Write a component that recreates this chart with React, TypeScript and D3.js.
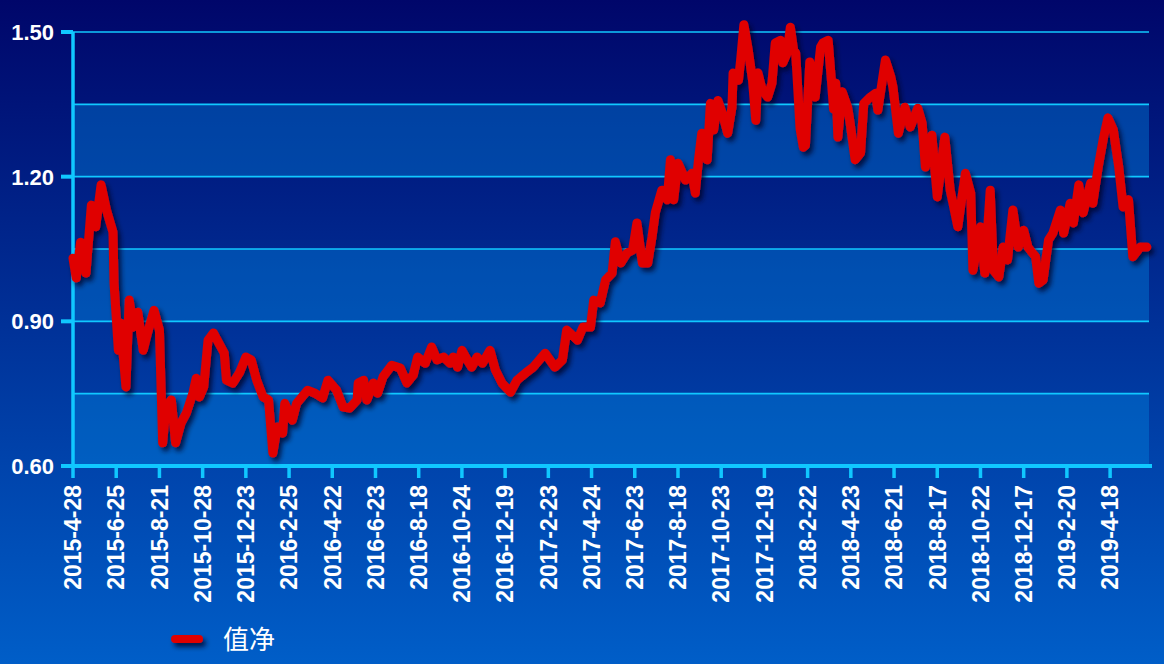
import * as d3 from 'd3';
import * as React from 'react';

// x-axis labels, one per 40 trading days
const dateLabels: string[] = [
    '2015-4-28', '2015-6-25', '2015-8-21', '2015-10-28', '2015-12-23',
    '2016-2-25', '2016-4-22', '2016-6-23', '2016-8-18', '2016-10-24',
    '2016-12-19', '2017-2-23', '2017-4-24', '2017-6-23', '2017-8-18',
    '2017-10-23', '2017-12-19', '2018-2-22', '2018-4-23', '2018-6-21',
    '2018-8-17', '2018-10-22', '2018-12-17', '2019-2-20', '2019-4-18',
];
const labelStep = 40;
const lastDay = 996;

const yLabels: number[] = [0.6, 0.9, 1.2, 1.5];
const gridValues: number[] = [0.6, 0.75, 0.9, 1.05, 1.2, 1.35, 1.5];

const seriesName = '值净';

// [trading-day index, net value]
const netValue: [number, number][] = [
    [0, 1.031], [3, 0.99], [7, 1.064], [12, 1.0], [17, 1.141], [21, 1.096],
    [26, 1.183], [31, 1.131], [37, 1.085], [38, 0.979], [42, 0.84], [44, 0.896],
    [49, 0.764], [52, 0.944], [56, 0.888], [60, 0.919], [65, 0.84], [69, 0.876],
    [75, 0.923], [80, 0.882], [83, 0.648], [86, 0.722], [91, 0.737], [95, 0.648],
    [100, 0.689], [105, 0.71], [111, 0.751], [114, 0.782], [117, 0.743], [121, 0.764],
    [125, 0.861], [130, 0.876], [135, 0.855], [140, 0.834], [142, 0.778], [148, 0.772],
    [154, 0.793], [160, 0.826], [165, 0.82], [170, 0.778], [176, 0.743], [181, 0.737],
    [185, 0.627], [189, 0.681], [194, 0.668], [196, 0.73], [203, 0.695], [207, 0.73],
    [217, 0.757], [224, 0.751], [231, 0.741], [236, 0.778], [244, 0.757], [250, 0.722],
    [256, 0.72], [263, 0.737], [264, 0.772], [269, 0.778], [272, 0.737], [278, 0.772],
    [282, 0.751], [287, 0.785], [295, 0.809], [303, 0.803], [309, 0.772], [315, 0.789],
    [319, 0.826], [326, 0.813], [332, 0.847], [337, 0.82], [343, 0.826], [349, 0.813],
    [352, 0.826], [356, 0.805], [360, 0.84], [365, 0.82], [369, 0.805], [374, 0.826],
    [379, 0.813], [386, 0.84], [391, 0.799], [397, 0.772], [405, 0.753], [411, 0.778],
    [419, 0.793], [426, 0.805], [437, 0.834], [446, 0.805], [453, 0.82], [457, 0.882],
    [467, 0.861], [472, 0.888], [479, 0.888], [482, 0.944], [488, 0.938], [493, 0.986],
    [499, 1.0], [502, 1.065], [507, 1.021], [513, 1.042], [518, 1.048], [522, 1.104],
    [527, 1.021], [532, 1.021], [536, 1.075], [539, 1.125], [545, 1.172], [550, 1.152],
    [553, 1.235], [556, 1.152], [560, 1.228], [567, 1.193], [573, 1.207], [576, 1.166],
    [579, 1.235], [582, 1.29], [587, 1.235], [590, 1.352], [593, 1.297], [597, 1.358],
    [602, 1.324], [606, 1.29], [610, 1.344], [611, 1.415], [616, 1.4], [618, 1.442],
    [621, 1.515], [625, 1.463], [629, 1.4], [632, 1.317], [634, 1.415], [638, 1.38],
    [643, 1.365], [647, 1.394], [650, 1.477], [655, 1.483], [657, 1.436], [661, 1.456],
    [664, 1.51], [667, 1.463], [669, 1.456], [673, 1.3], [676, 1.261], [678, 1.265],
    [682, 1.438], [687, 1.365], [692, 1.469], [694, 1.477], [699, 1.483], [702, 1.4],
    [704, 1.34], [706, 1.394], [708, 1.282], [712, 1.376], [717, 1.344], [719, 1.317],
    [724, 1.235], [729, 1.249], [732, 1.352], [738, 1.365], [743, 1.373], [745, 1.338],
    [752, 1.442], [757, 1.407], [759, 1.386], [764, 1.29], [770, 1.344], [775, 1.303],
    [782, 1.342], [786, 1.311], [789, 1.22], [795, 1.286], [800, 1.158], [807, 1.282],
    [812, 1.172], [819, 1.096], [826, 1.207], [831, 1.166], [833, 1.006], [840, 1.096],
    [844, 1.0], [849, 1.172], [852, 1.006], [857, 0.992], [861, 1.054], [865, 1.027],
    [870, 1.131], [875, 1.054], [880, 1.089], [884, 1.054], [888, 1.042], [891, 1.034],
    [894, 0.979], [898, 0.986], [903, 1.069], [907, 1.083], [914, 1.131], [917, 1.083],
    [923, 1.145], [926, 1.104], [931, 1.183], [935, 1.125], [942, 1.187], [944, 1.145],
    [949, 1.22], [954, 1.282], [958, 1.322], [963, 1.297], [968, 1.22], [972, 1.137],
    [977, 1.152], [981, 1.034], [988, 1.054], [994, 1.054],
];

const W = 1164;
const H = 664;
const plot = { left: 73, right: 1149, top: 32, bottom: 466 };
const cyan = '#10c8ff';
const red = '#e00000';

export default function App() {
    const x = d3.scaleLinear().domain([0, lastDay]).range([plot.left, plot.right]);
    const y = d3.scaleLinear().domain([0.6, 1.5]).range([plot.bottom, plot.top]);

    const line = d3.line<[number, number]>()
        .x(d => x(d[0]))
        .y(d => y(d[1]));

    // alternating bands between grid lines, lighter ones from the bottom up
    const bands = d3.pairs(gridValues).map(([lo, hi], i) => ({ lo, hi, light: i % 2 === 0 }));

    return (
        <div style={{ position: 'fixed', left: 0, top: 0 }}>
            <svg width={W} height={H} style={{ display: 'block' }}>
                <defs>
                    <linearGradient id="bg" x1="0" y1="0" x2="0" y2="1">
                        <stop offset="0%" stopColor="#00066a" />
                        <stop offset="100%" stopColor="#005ec8" />
                    </linearGradient>
                    <filter id="shadow" filterUnits="userSpaceOnUse" x="0" y="0" width={W} height={H}>
                        <feDropShadow dx="3" dy="4" stdDeviation="2.5" floodColor="#000020" floodOpacity="0.75" />
                    </filter>
                </defs>
                <rect x={0} y={0} width={W} height={H} fill="url(#bg)" />

                {bands.map(b => b.light && (
                    <rect
                        key={b.lo}
                        x={plot.left}
                        y={y(b.hi)}
                        width={plot.right - plot.left}
                        height={y(b.lo) - y(b.hi)}
                        fill="rgb(0,140,230)"
                        fillOpacity={0.38}
                    />
                ))}

                {gridValues.map(v => (
                    <line key={v} x1={plot.left} x2={plot.right} y1={y(v)} y2={y(v)}
                        stroke={cyan} strokeWidth={1.6} />
                ))}

                {/* y axis */}
                <line x1={plot.left} x2={plot.left} y1={plot.top} y2={plot.bottom} stroke={cyan} strokeWidth={3.5} />
                {yLabels.map(v => (
                    <g key={v}>
                        <line x1={plot.left - 12} x2={plot.left} y1={y(v)} y2={y(v)} stroke={cyan} strokeWidth={4} />
                        <text x={54} y={y(v)} dy="0.36em" textAnchor="end" fill="#fff"
                            fontFamily="Liberation Sans, Arial, sans-serif" fontWeight="bold" fontSize={22}>
                            {d3.format('.2f')(v)}
                        </text>
                    </g>
                ))}

                {/* x axis */}
                <line x1={plot.left - 12} x2={plot.right + 3} y1={plot.bottom} y2={plot.bottom} stroke={cyan} strokeWidth={4} />
                {dateLabels.map((lab, i) => {
                    const tx = x(i * labelStep);
                    return (
                        <g key={lab}>
                            <line x1={tx} x2={tx} y1={plot.bottom} y2={plot.bottom + 12} stroke={cyan} strokeWidth={3.5} />
                            <text transform={`translate(${tx},${plot.bottom + 19}) rotate(-90)`}
                                dy="0.36em" textAnchor="end" fill="#fff"
                                fontFamily="Liberation Sans, Arial, sans-serif" fontWeight="bold" fontSize={23}>
                                {lab}
                            </text>
                        </g>
                    );
                })}

                <path d={line(netValue) ?? ''} fill="none" stroke={red} strokeWidth={9}
                    strokeLinejoin="round" strokeLinecap="round" filter="url(#shadow)" />

                {/* legend */}
                <rect x={171} y={635} width={32} height={8} rx={4} fill={red} filter="url(#shadow)" />
                <text x={223} y={649} fill="#fff" fontFamily="Noto Sans CJK SC, sans-serif" fontSize={26}>
                    {seriesName}
                </text>
            </svg>
        </div>
    );
}
